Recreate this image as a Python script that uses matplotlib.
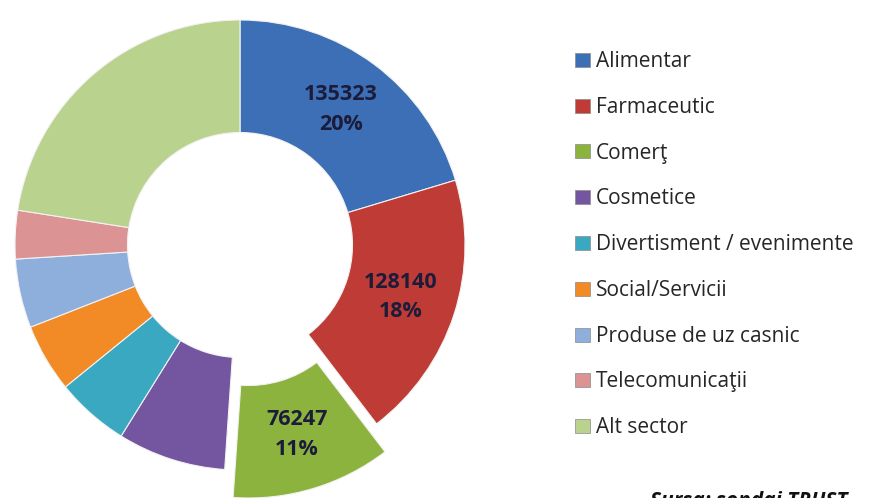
import matplotlib.pyplot as plt
from matplotlib.patches import Rectangle
import numpy as np

plt.rcParams['font.family'] = ['Open Sans', 'DejaVu Sans']

sectors = ["Alimentar", "Farmaceutic", "Comerţ", "Cosmetice",
           "Divertisment / evenimente", "Social/Servicii",
           "Produse de uz casnic", "Telecomunicaţii", "Alt sector"]
values = [135323, 128140, 76247, 51700, 35100, 32700, 32900, 23100, 149790]
# percentages as printed on the chart (only the first three slices are labelled)
pct_labels = [20, 18, 11]
colors = ["#3C6FB6", "#BE3B36", "#8DB33F", "#7455A0", "#3AA8C1",
          "#F28A26", "#8EAEDC", "#DB9393", "#B9D38F"]
explode = [0, 0, 0.13, 0, 0, 0, 0, 0, 0]

W, H = 876, 498
fig = plt.figure(figsize=(W / 100, H / 100), dpi=100)

R = 225.0
half = 270.0
cx, cy = 240, H - 245
ax = fig.add_axes([(cx - half) / W, (cy - half) / H, 2 * half / W, 2 * half / H])

wedges, texts = ax.pie(values, colors=colors, explode=explode,
                       startangle=90, counterclock=False,
                       wedgeprops=dict(width=0.5, edgecolor="#f2f2f2", linewidth=0.8))

for i, p in enumerate(pct_labels):
    w = wedges[i]
    mid = np.deg2rad((w.theta1 + w.theta2) / 2)
    x = w.center[0] + 0.75 * np.cos(mid)
    y = w.center[1] + 0.75 * np.sin(mid)
    ax.text(x, y, "%d\n%d%%" % (values[i], p), ha="center", va="center",
            fontsize=15.5, fontweight="bold", color="#1c1c3a", linespacing=1.55)

ax.set_xlim(-half / R, half / R)
ax.set_ylim(-half / R, half / R)
ax.set_aspect("equal")
ax.axis("off")

# legend, one row per sector
pitch = 45.75
for i, (name, c) in enumerate(zip(sectors, colors)):
    base = 67 + i * pitch
    fig.patches.append(Rectangle((575 / W, 1 - base / H), 15 / W, 14 / H,
                                 transform=fig.transFigure, facecolor=c,
                                 edgecolor="#8a8a8a", linewidth=0.5))
    fig.text(596 / W, 1 - base / H, name, fontsize=15, color="#262626",
             ha="left", va="baseline")

fig.text(650 / W, 1 - 491 / H, "Sursa: sondaj TRUST", fontsize=15,
         fontweight="bold", fontstyle="italic", va="top", ha="left", color="#111111")

fig.savefig("out.png", dpi=100, facecolor="white")
